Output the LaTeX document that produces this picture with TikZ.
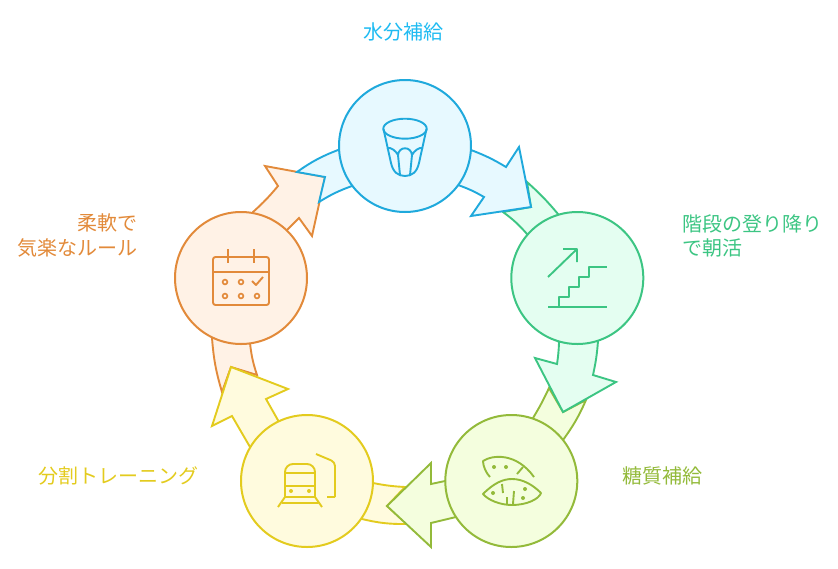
\documentclass[tikz,border=0pt]{standalone}
\usepackage{fontspec}
\setmainfont{Noto Sans CJK JP}
\definecolor{waterline}{HTML}{1FA9DC}
\definecolor{waterfill}{HTML}{E7F9FF}
\definecolor{watertext}{HTML}{1FBBF2}
\definecolor{stairsline}{HTML}{3CC583}
\definecolor{stairsfill}{HTML}{E4FEF1}
\definecolor{sugarline}{HTML}{93BA3A}
\definecolor{sugarfill}{HTML}{F4FEDE}
\definecolor{trainline}{HTML}{E3CB1E}
\definecolor{trainfill}{HTML}{FFFBDE}
\definecolor{restline}{HTML}{E28A3A}
\definecolor{restfill}{HTML}{FFF2E6}

\begin{document}
\begin{tikzpicture}[x=1pt,y=-1pt,line width=1.9pt]
  % styles
  \tikzstyle{stop} = [circle,minimum size=132pt,inner sep=0pt,line width=2pt];
  \tikzstyle{caption} = [inner sep=0pt,font=\fontsize{20}{24.5}\selectfont];
  \tikzstyle{icon} = [line join=round];
  \tikzstyle{waterstyle} = [draw=waterline,fill=waterfill];
  \tikzstyle{stairsstyle} = [draw=stairsline,fill=stairsfill];
  \tikzstyle{sugarstyle} = [draw=sugarline,fill=sugarfill];
  \tikzstyle{trainstyle} = [draw=trainline,fill=trainfill];
  \tikzstyle{reststyle} = [draw=restline,fill=restfill];

  \useasboundingbox (0,0) rectangle (838,568);

  % arrows
  \path[reststyle] (222,392) -- (231,367) -- (257,375) to[bend left=6] (250,343)
    -- (287,230) -- (299,218) -- (312,236) -- (325,177) -- (265,166) -- (278,186)
    to[bend left=4] (253,212) -- (212,338) to[bend right=6] cycle;
  \path[trainstyle] (405,487) -- (387,506) -- (407,524) to[bend left=7] (362,519)
    -- (250,447) -- (232,416) -- (212,426) -- (231,367) -- (288,389) -- (266,399)
    -- (279,422) -- (373,483) to[bend right=4] cycle;
  \path[sugarstyle] (549,388) -- (563,412) -- (586,400) to[bend left=6] (563,440)
    -- (456,517) -- (431,523) -- (431,547) -- (387,506) -- (431,463) -- (431,484)
    -- (445,481) -- (533,418) to[bend right=3] cycle;
  \path[stairsstyle] (527,182) -- (531,207) -- (503,212) to[bend left=6] (527,234)
    -- (559,343) to[bend left=3] (557,364) -- (535,358) -- (563,412) -- (616,382)
    -- (593,375) to[bend right=4] (598,341) -- (558,214) to[bend right=4] cycle;
  \path[waterstyle] (297,172) -- (325,177) -- (319,202) to[bend left=6] (352,186)
    -- (458,185) to[bend left=5] (484,197) -- (471,216) -- (531,207) -- (519,147)
    -- (506,167) to[bend right=5] (471,150) -- (338,150) to[bend right=7] cycle;

  % nodes
  \node[stop,waterstyle] (water) at (405,146) {};
  \node[stop,stairsstyle] (stairs) at (577.3,278) {};
  \node[stop,sugarstyle] (sugar) at (511.3,481) {};
  \node[stop,trainstyle] (train) at (307,481) {};
  \node[stop,reststyle] (rest) at (241,278) {};

  \node[caption,text=watertext] (waterlabel) at (403,31.5) {水分補給};
  \node[caption,text=stairsline,align=left,anchor=west] (stairslabel) at (682,235.7) {階段の登り降り\\で朝活};
  \node[caption,text=sugarline] (sugarlabel) at (662,475.5) {糖質補給};
  \node[caption,text=trainline] (trainlabel) at (118.5,475.5) {分割トレーニング};
  \node[caption,text=restline,align=right,anchor=east] (restlabel) at (138.5,235.7) {柔軟で\\気楽なルール};

  % icons
  \draw[icon,waterline] (405,128.7) ellipse (21.7 and 10);
  \draw[icon,waterline] (383.5,129) -- (391,163) .. controls (393,172) and (398,176) .. (405,176)
    .. controls (412,176) and (417,172) .. (419,163) -- (426.5,129);
  \draw[icon,waterline] (387,148) .. controls (391,147) and (396,151) .. (398,155)
    .. controls (399,146) and (411,146) .. (412,155) .. controls (414,151) and (419,147) .. (423,148);
  \draw[icon,waterline] (398,155) -- (400,175) (412,155) -- (410,175);

  \draw[icon,stairsline] (548,277) -- (577,249) (563,249) -- (577,249) -- (577,262);
  \draw[icon,stairsline] (548,307) -- (607,307);
  \draw[icon,stairsline] (559,307) |- (569,297) |- (579,287) |- (589,277) |- (607,267);

  \draw[icon,sugarline] (490,477) .. controls (486,473) and (483,466) .. (483,461)
    .. controls (492,455) and (516,452) .. (534,477);
  \draw[icon,sugarline] (517,474) -- (523,467);
  \draw[icon,sugarline] (483,494) .. controls (494,483) and (503,479) .. (512,479)
    .. controls (523,479) and (533,485) .. (541,493) .. controls (539,499) and (527,505) .. (512,505)
    .. controls (500,505) and (488,500) .. cycle;
  \draw[icon,sugarline] (502,484) -- (503,493) (507,497) -- (507,504) (514,491) -- (513,504);
  \fill[sugarline] (494,467) circle (2) (506,467) circle (2) (493,493) circle (2)
    (525,489) circle (2) (523,498) circle (2);

  \draw[icon,trainline,rounded corners=8pt] (285,497) -- (285,464) -- (315,464) -- (315,497);
  \draw[icon,trainline] (285,473) -- (315,473) (285,486) -- (315,486) (285,497) -- (315,497);
  \draw[icon,trainline] (282,503) -- (318,503) (285,497) -- (278,507) (315,497) -- (322,507);
  \fill[trainline] (291,491) circle (2) (309,491) circle (2);
  \draw[icon,trainline,rounded corners=4pt] (316,454) -- (335,462) -- (335,497);
  \draw[icon,trainline] (335,497) -- (327,497);

  \draw[icon,restline,rounded corners=2.5pt] (213,257) rectangle (269,305);
  \draw[icon,restline] (213,272) -- (269,272) (228,249) -- (228,263) (254,249) -- (254,263);
  \draw[icon,restline] (252,281) -- (256,285) -- (263,277);
  \foreach \dotx/\doty in {225/282,241/282,225/296,241/296,257/296}
    \draw[restline,line width=1.6pt] (\dotx,\doty) circle (2.4);
\end{tikzpicture}
\end{document}
